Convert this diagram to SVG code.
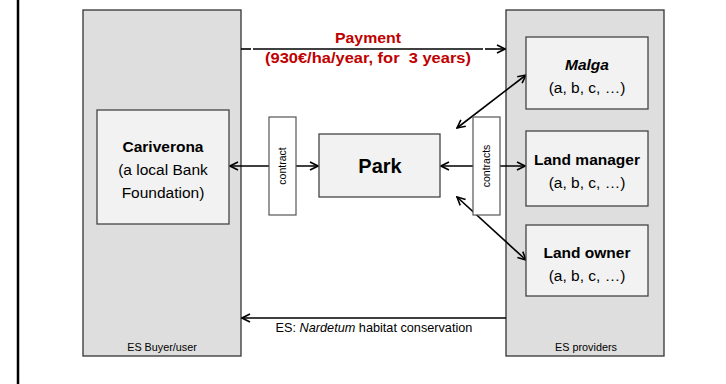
<svg xmlns="http://www.w3.org/2000/svg" width="726" height="384" viewBox="0 0 726 384">
<style>
.grp{fill:#dedede;stroke:#333;stroke-width:1.3}
.box{fill:#f2f2f2;stroke:#444;stroke-width:1.3}
.thin{fill:#fff;stroke:#555;stroke-width:1.2}
.ln{stroke:#000;stroke-width:1.6;fill:none}
text{font-family:"Liberation Sans",Arial,sans-serif;fill:#000;text-anchor:middle}
.b{font-weight:bold}
.t{font-size:15.5px}
.red{fill:#c00000;font-weight:bold;font-size:15px}
.sm{font-size:10.8px}
</style>
<defs>
<marker id="ah" viewBox="0 0 10 10" refX="9" refY="5" markerWidth="10" markerHeight="10" markerUnits="userSpaceOnUse" orient="auto-start-reverse">
<path d="M1,1 L9,5 L1,9" fill="none" stroke="#000" stroke-width="1.6"/>
</marker>
</defs>
<line x1="18" y1="0" x2="18" y2="384" stroke="#000" stroke-width="2.5"/>
<g id="buyer">
<rect class="grp" x="83" y="10" width="158" height="346"/>
<text class="sm" x="162" y="351">ES Buyer/user</text>
</g>
<g id="providers">
<rect class="grp" x="506" y="10" width="158" height="346"/>
<text class="sm" x="586" y="351">ES providers</text>
</g>
<g id="connectors">
<line class="ln" x1="241" y1="49" x2="251" y2="49"/>
<line class="ln" x1="253" y1="49" x2="483" y2="49"/>
<line class="ln" x1="485" y1="49" x2="505" y2="49" marker-end="url(#ah)"/>
<line class="ln" x1="506" y1="318" x2="242" y2="318" marker-end="url(#ah)"/>
<line class="ln" x1="230" y1="166" x2="318" y2="166" marker-start="url(#ah)" marker-end="url(#ah)"/>
<line class="ln" x1="441" y1="166" x2="525" y2="166" marker-start="url(#ah)" marker-end="url(#ah)"/>
<line class="ln" x1="457" y1="128" x2="526" y2="75" marker-start="url(#ah)" marker-end="url(#ah)"/>
<line class="ln" x1="457" y1="197" x2="526" y2="260" marker-start="url(#ah)" marker-end="url(#ah)"/>
<text class="red" x="368" y="43" textLength="66" lengthAdjust="spacingAndGlyphs">Payment</text>
<text class="red" x="368" y="63" textLength="206" lengthAdjust="spacingAndGlyphs" xml:space="preserve">(930€/ha/year, for  3 years)</text>
<text style="font-size:12.7px" x="374" y="332">ES: <tspan font-style="italic">Nardetum</tspan> habitat conservation</text>
</g>
<g id="cariverona">
<rect class="box" x="97" y="110" width="132" height="114"/>
<text class="t b" x="163" y="152">Cariverona</text>
<text class="t" x="163" y="175">(a local Bank</text>
<text class="t" x="163" y="198">Foundation)</text>
</g>
<g id="contract">
<rect class="thin" x="269" y="117" width="27" height="98"/>
<text style="font-size:10.5px" transform="translate(286,166) rotate(-90)">contract</text>
</g>
<g id="park">
<rect class="box" x="319" y="134" width="121" height="63"/>
<text class="b" style="font-size:20px" x="380" y="173">Park</text>
</g>
<g id="contracts">
<rect class="thin" x="473" y="117" width="27" height="98"/>
<text style="font-size:10.5px" transform="translate(490,166) rotate(-90)">contracts</text>
</g>
<g id="malga">
<rect class="box" x="526" y="37" width="122" height="72"/>
<text class="t b" font-style="italic" x="587" y="70">Malga</text>
<text class="t" x="587" y="93">(a, b, c, …)</text>
</g>
<g id="landmanager">
<rect class="box" x="526" y="131" width="122" height="75"/>
<text class="t b" x="587" y="165">Land manager</text>
<text class="t" x="587" y="188">(a, b, c, …)</text>
</g>
<g id="landowner">
<rect class="box" x="526" y="225" width="122" height="71"/>
<text class="t b" x="587" y="258">Land owner</text>
<text class="t" x="587" y="281">(a, b, c, …)</text>
</g>
</svg>
